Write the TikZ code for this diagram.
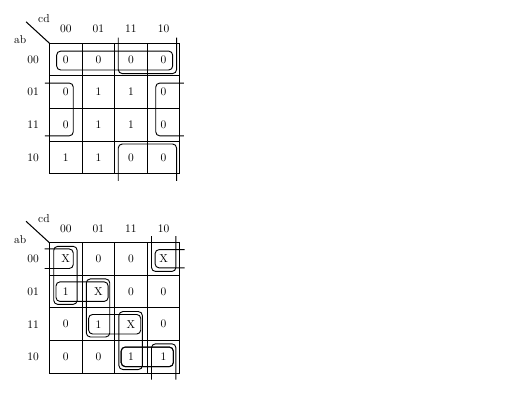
\documentclass[tikz,border=0pt]{standalone}
\usepackage{tikz}
\usetikzlibrary{positioning}

\begin{document}
\begin{tikzpicture}[
    cell/.style={minimum size=1cm, inner sep=0pt},
    code/.style={inner sep=0pt},
    grid/.style={draw=black, line width=0.9pt},
    loop/.style={draw=black, line width=0.8pt, rounded corners=3.5pt}
]
\useasboundingbox (-1.518,-11.34) rectangle (14.19,1.328);

% both maps: grid, gray codes, corner
\foreach \m/\y in {1/0, 2/-6.12} {
  \begin{scope}[yshift=\y cm]
    \coordinate (m\m-corner) at (0,0);
    \coordinate (m\m-diag) at (-0.72,0.66);
    \draw[grid] (0,0) rectangle (4,-4);
    \foreach \i in {1,2,3} {
      \draw[grid] (\i,0) -- (\i,-4);
      \draw[grid] (0,-\i) -- (4,-\i);
    }
    \draw[grid] (m\m-diag) -- (m\m-corner);
    \node[code] (m\m-cd) at (-0.17,0.745) {cd};
    \node[code] (m\m-ab) at (-0.9,0.11) {ab};
    \foreach \t [count=\i from 0] in {00,01,11,10} {
      \node[code] (m\m-col\i) at (\i+0.5,0.44) {\t};
      \node[code] (m\m-row\i) at (-0.5,-\i-0.5) {\t};
    }
  \end{scope}
}

% map 1 values
\foreach \row [count=\r from 0] in {{0,0,0,0},{0,1,1,0},{0,1,1,0},{1,1,0,0}} {
  \foreach \v [count=\c from 0] in \row {
    \node[cell] (m1-r\r c\c) at (\c+0.5,-\r-0.5) {\v};
  }
}

% map 1 groups
\draw[loop] (0.22,-0.24) rectangle (3.78,-0.82);
\draw[loop] (2.11,0.17) -- (2.11,-0.93) -- (3.9,-0.93) -- (3.9,0.17);
\draw[loop] (2.11,-4.22) -- (2.11,-3.09) -- (3.9,-3.09) -- (3.9,-4.22);
\draw[loop] (-0.14,-1.22) -- (0.73,-1.22) -- (0.73,-2.84) -- (-0.14,-2.84);
\draw[loop] (4.12,-1.22) -- (3.26,-1.22) -- (3.26,-2.84) -- (4.12,-2.84);

\begin{scope}[yshift=-6.12cm]
% map 2 values
\foreach \row [count=\r from 0] in {{X,0,0,X},{1,X,0,0},{0,1,X,0},{0,0,1,1}} {
  \foreach \v [count=\c from 0] in \row {
    \node[cell] (m2-r\r c\c) at (\c+0.5,-\r-0.5) {\v};
  }
}

% map 2 groups
\foreach \c in {0,1,2} {
  \draw[loop] (\c+0.13,-\c-0.11) rectangle (\c+0.85,-\c-1.89);
  \draw[loop] (\c+0.2,-\c-1.2) rectangle (\c+1.8,-\c-1.8);
}
\draw[loop] (2.2,-3.2) rectangle (3.8,-3.8);
\draw[loop] (-0.15,-0.19) -- (0.73,-0.19) -- (0.73,-0.79) -- (-0.15,-0.79);
\draw[loop] (4.15,-0.21) -- (3.24,-0.21) -- (3.24,-0.77) -- (4.15,-0.77);
\draw[loop] (3.13,0.2) -- (3.13,-0.88) -- (3.88,-0.88) -- (3.88,0.2);
\draw[loop] (3.13,-4.2) -- (3.13,-3.1) -- (3.88,-3.1) -- (3.88,-4.2);
\end{scope}
\end{tikzpicture}
\end{document}
